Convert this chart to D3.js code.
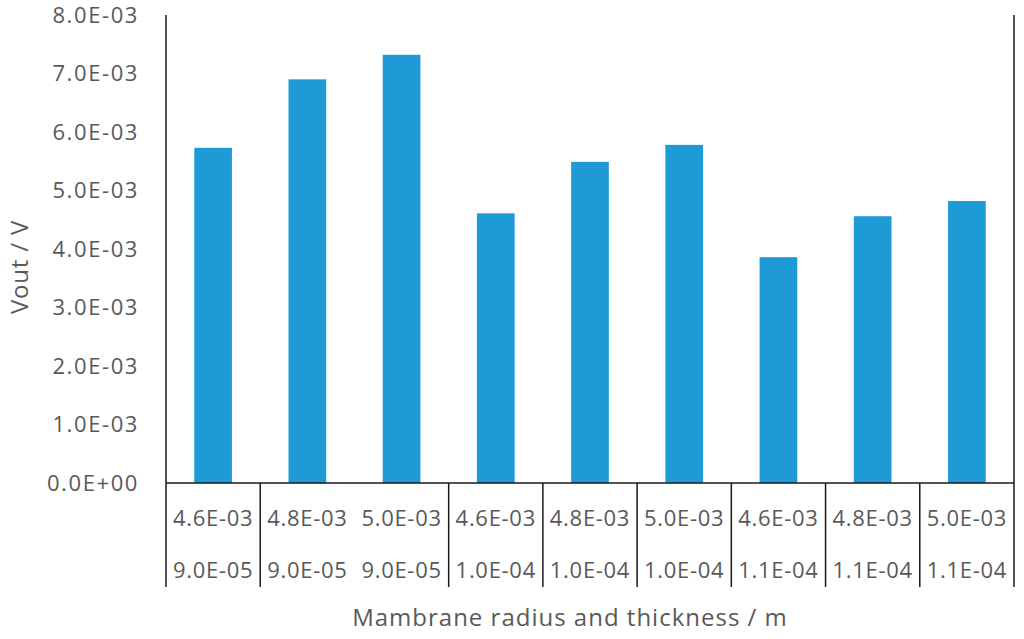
<!DOCTYPE html>
<html><head><meta charset="utf-8">
<script src="https://cdn.jsdelivr.net/npm/d3@7"></script>
<style>body{margin:0;background:#fff}svg{display:block}text{font-family:"Open Sans",sans-serif;fill:#595959}</style>
</head><body><svg id="c" width="1024" height="639"></svg>
<script>
const radius = ["4.6E-03","4.8E-03","5.0E-03","4.6E-03","4.8E-03","5.0E-03","4.6E-03","4.8E-03","5.0E-03"];
const thickness = ["9.0E-05","9.0E-05","9.0E-05","1.0E-04","1.0E-04","1.0E-04","1.1E-04","1.1E-04","1.1E-04"];
const vout = [5.73e-3, 6.90e-3, 7.32e-3, 4.61e-3, 5.49e-3, 5.78e-3, 3.86e-3, 4.56e-3, 4.82e-3];
const yTicks = [0, 1e-3, 2e-3, 3e-3, 4e-3, 5e-3, 6e-3, 7e-3, 8e-3];
const separators = [0, 1, 3, 4, 5, 6, 7, 8, 9]; // boundary indices drawn as lines
const yTitle = "Vout / V";
const xTitle = "Mambrane radius and thickness / m";

const svg = d3.select("#c");
const L = 166, R = 1014, T = 15, B = 483, labBottom = 587;
const idx = d3.range(vout.length);
const x = d3.scaleBand().domain(idx).range([L, R]).paddingInner(0.6).paddingOuter(0.3);
const xb = d3.scaleLinear().domain([0, vout.length]).range([L, R]);
const y = d3.scaleLinear().domain([0, 8e-3]).range([B, T]);
const fmt = v => { if (v === 0) return "0.0E+00"; const s = v.toExponential(1).toUpperCase(); return s.replace(/E([+-])(\d)$/, "E$10$2"); };

svg.selectAll("rect.bar").data(idx).join("rect").attr("class","bar")
  .attr("x", i => x(i)).attr("width", x.bandwidth())
  .attr("y", i => y(vout[i])).attr("height", i => B - y(vout[i]))
  .attr("fill", "#1e9bd7");

svg.selectAll("text.yt").data(yTicks).join("text").attr("class","yt")
  .attr("x", 139).attr("y", d => y(d)).attr("dy","0.36em").attr("text-anchor","end")
  .style("font-size","22px").style("letter-spacing","1.6px").text(fmt);

const axisCol = "#1a1a1a";
svg.append("line").attr("x1", L).attr("x2", L).attr("y1", T).attr("y2", labBottom).attr("stroke", axisCol).attr("stroke-width", 1.5);
svg.append("line").attr("x1", R).attr("x2", R).attr("y1", T).attr("y2", labBottom).attr("stroke", axisCol).attr("stroke-width", 1.5);
svg.append("line").attr("x1", L).attr("x2", R).attr("y1", B).attr("y2", B).attr("stroke", axisCol).attr("stroke-width", 1.5);
svg.selectAll("line.sep").data(separators.filter(s => s > 0 && s < vout.length)).join("line").attr("class","sep")
  .attr("x1", d => xb(d)).attr("x2", d => xb(d)).attr("y1", B).attr("y2", labBottom)
  .attr("stroke", axisCol).attr("stroke-width", 1.5);

svg.selectAll("text.r").data(idx).join("text").attr("class","r")
  .attr("x", i => xb(i + 0.5)).attr("y", 518).attr("dy","0.36em").attr("text-anchor","middle")
  .style("font-size","22px").style("letter-spacing","0.7px").text(i => radius[i]);
svg.selectAll("text.t").data(idx).join("text").attr("class","t")
  .attr("x", i => xb(i + 0.5)).attr("y", 570).attr("dy","0.36em").attr("text-anchor","middle")
  .style("font-size","22px").style("letter-spacing","0.7px").text(i => thickness[i]);

svg.append("text").attr("x", 570).attr("y", 617).attr("dy","0.36em").attr("text-anchor","middle")
  .style("font-size","24px").style("letter-spacing","1px").text(xTitle);
svg.append("text").attr("transform","translate(19,267) rotate(-90)").attr("dy","0.36em").attr("text-anchor","middle")
  .style("font-size","24px").style("letter-spacing","0.8px").text(yTitle);
</script></body></html>
